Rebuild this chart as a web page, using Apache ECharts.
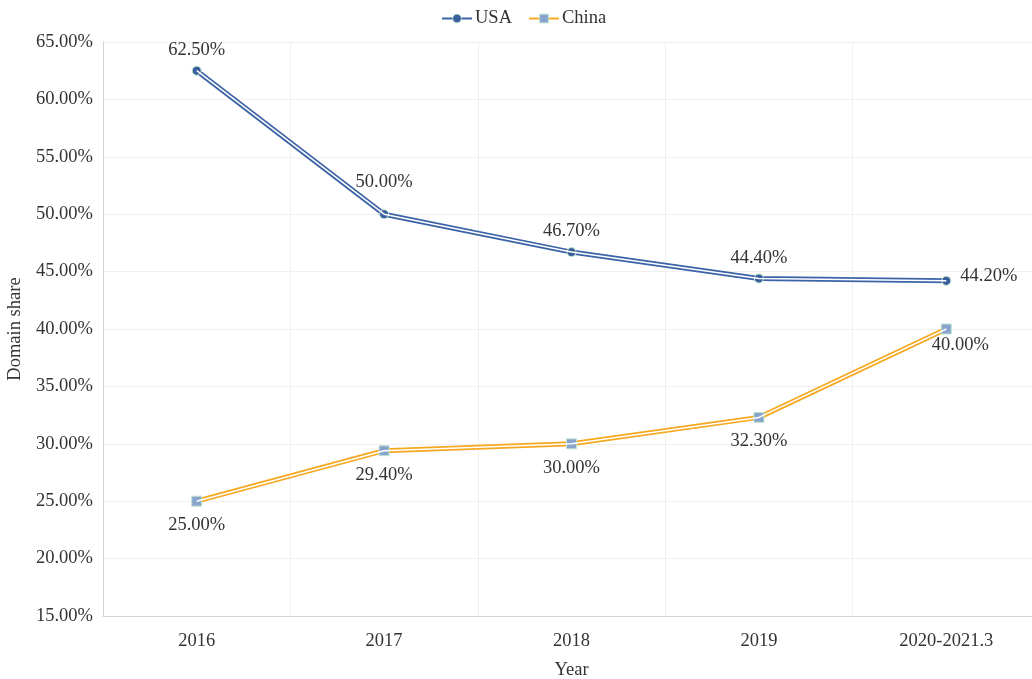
<!DOCTYPE html>
<html>
<head>
<meta charset="utf-8">
<script src="https://cdn.jsdelivr.net/npm/echarts@6/dist/echarts.min.js"></script>
<style>
  html, body { margin: 0; padding: 0; background: #fff; }
  #chart { width: 1032px; height: 679px; }
</style>
</head>
<body>
<div id="chart"></div>
<script>
// 数据
var years = ['2016', '2017', '2018', '2019', '2020-2021.3'];
var usaShare = [62.5, 50.0, 46.7, 44.4, 44.2];
var chinaShare = [25.0, 29.4, 30.0, 32.3, 40.0];
var yTicks = { min: 15, max: 65, interval: 5 };

var font = 'Liberation Serif';
var fs = 18.5;
var usaColor = '#3b63a6';
var chinaColor = '#f6a821';

function pct(p) { return Number(p.value).toFixed(2) + '%'; }

// 外层彩色线
function baseSeries(name, data, color, symbol, fill, labelPos) {
    return {
        name: name,
        type: 'line',
        data: data,
        symbol: symbol,
        symbolSize: symbol === 'circle' ? 9 : 10,
        z: 2,
        lineStyle: { color: color, width: 5 },
        itemStyle: { color: fill, borderColor: '#bfe6cf', borderWidth: 1 },
        label: {
            show: true,
            position: labelPos,
            distance: 9,
            fontFamily: font,
            fontSize: fs,
            color: '#333',
            formatter: pct
        }
    };
}

// 中间白线，做双线效果
function innerSeries(data) {
    return {
        type: 'line',
        data: data,
        symbol: 'none',
        silent: true,
        z: 3,
        lineStyle: { color: '#fff', width: 1.5 },
        tooltip: { show: false }
    };
}

var usa = baseSeries('USA', usaShare, usaColor, 'circle', '#3a5e9b', 'top');
usa.label.distance = 6;
usa.data = usaShare.map(function (v, i) {
    if (i === 1) return { value: v, label: { offset: [0, -12] } };
    if (i === usaShare.length - 1) {
        return { value: v, label: { position: 'right', distance: 9, offset: [0, -5] } };
    }
    return v;
});

var china = baseSeries('China', chinaShare, chinaColor, 'rect', '#89a3cd', 'bottom');
china.data = chinaShare.map(function (v, i) {
    if (i === chinaShare.length - 1) {
        return { value: v, label: { offset: [14, -8] } };
    }
    return v;
});

var option = {
    backgroundColor: '#fff',
    animation: false,
    textStyle: { fontFamily: font },
    legend: {
        top: 4,
        left: 436,
        data: ['USA', 'China'],
        itemWidth: 30,
        itemHeight: 11,
        itemGap: 16,
        itemStyle: { borderColor: '#bfe6cf', borderWidth: 1 },
        textStyle: { fontFamily: font, fontSize: fs, color: '#333', padding: [0, 0, 0, -2] }
    },
    grid: { left: 103, right: -8, top: 42, bottom: 63, outerBoundsMode: 'none', containLabel: false },
    xAxis: {
        type: 'category',
        data: years,
        name: 'Year',
        nameLocation: 'middle',
        nameGap: 45,
        nameTextStyle: { fontFamily: font, fontSize: fs, color: '#333' },
        axisLine: { lineStyle: { color: '#d4d4d4' } },
        axisTick: { show: false },
        axisLabel: { fontFamily: font, fontSize: fs, color: '#333', margin: 16 },
        splitLine: { show: true, lineStyle: { color: '#f0f0f0' } }
    },
    yAxis: {
        type: 'value',
        min: yTicks.min,
        max: yTicks.max,
        interval: yTicks.interval,
        name: 'Domain share',
        nameLocation: 'middle',
        nameGap: 76,
        nameTextStyle: { fontFamily: font, fontSize: fs, color: '#333' },
        axisLine: { show: true, lineStyle: { color: '#d4d4d4' } },
        axisTick: { show: false },
        axisLabel: {
            fontFamily: font, fontSize: fs, color: '#333', margin: 10,
            formatter: function (v) { return v.toFixed(2) + '%'; }
        },
        splitLine: { show: true, lineStyle: { color: '#f0f0f0' } }
    },
    series: [usa, china, innerSeries(usaShare), innerSeries(chinaShare)]
};

var myChart = echarts.init(document.getElementById('chart'));
myChart.setOption(option);
</script>
</body>
</html>
